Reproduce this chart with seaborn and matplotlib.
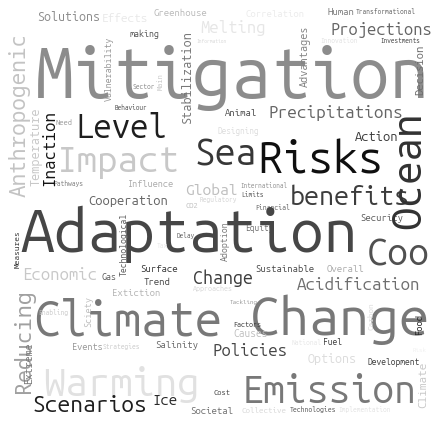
import numpy as np
import seaborn as sns
import matplotlib
matplotlib.use("Agg")
import matplotlib.pyplot as plt

# words of the cloud and their weight (size of one character cell, px)
words = ["Solutions", "Effects", "Greenhouse", "Melting", "Information", "Mitigation",
         "Correlation", "Human", "Transformational", "Projections", "Innovation", "Investments",
         "making", "Sector", "Behaviour", "Level", "Need", "Impact", "Sea", "Risks", "Animal",
         "Precipitations", "Action", "Designing", "Pathways", "Influence", "Global", "Cooperation",
         "CO2", "Regulatory", "International", "Limits", "Financial", "benefits", "Security", "Coo",
         "Equity", "Sustainable", "Overall", "Acidification", "Change", "Tackling", "Approaches",
         "Adaptation", "Economic", "Gas", "Surface", "Trend", "Delay", "Tax", "Extiction", "Climate",
         "Enabling", "Events", "Strategies", "Salinity", "Warming", "Scenarios", "Ice", "Cost",
         "Societal", "Policies", "Change", "Factors", "Causes", "National", "Fuel", "Options",
         "Development", "Risk", "Emission", "Collective", "Technologies", "Implementation",
         "Anthropogenic", "Vulnerability", "Main", "Stabilization", "Temperature", "Advantages",
         "Decision", "Inaction", "Ocean", "Adoption", "Measures", "Technological", "Reducing",
         "Extreme", "Sciety", "Carbon", "Food", "Climate"]
weights = [7.0, 6.6, 5.3, 9.3, 2.8, 39.5,
           5.3, 5.4, 3.7, 9.2, 3.7, 3.6,
           5.0, 3.7, 3.6, 18.4, 4.3, 20.5, 20.7, 25.0, 5.3,
           9.6, 7.2, 4.6, 3.8, 5.2, 8.8, 7.2,
           4.3, 3.7, 3.6, 3.7, 3.9, 15.0, 5.3, 21.0,
           4.7, 5.3, 5.4, 9.5, 10.0, 3.5, 4.0,
           33.7, 9.4, 5.0, 5.4, 5.4, 3.6, 3.7, 5.3, 27.0,
           3.8, 5.2, 3.7, 5.4, 22.4, 12.8, 8.3, 4.3,
           5.4, 9.4, 30.0, 4.1, 5.7, 3.8, 4.8, 7.1,
           4.8, 3.5, 21.9, 4.5, 3.9, 3.7,
           15.0, 5.9, 5.0, 8.5, 8.5, 7.3,
           7.5, 11.3, 28.0, 5.9, 5.6, 5.8, 15.4,
           7.1, 6.2, 5.5, 6.3, 7.9]

# layout: start x / baseline y for horizontal words, centre x / start y for vertical ones
pos_x = [37, 102, 154, 200, 196, 35,
         245, 328, 356, 330, 320, 380,
         130, 133, 115, 75, 55, 57, 195, 258, 225,
         268, 355, 217, 53, 128, 185, 88,
         185, 200, 240, 241, 255, 290, 360, 367,
         245, 255, 327, 297, 193, 230, 193,
         20, 22, 102, 140, 143, 177, 157, 112, 33,
         38, 72, 103, 155, 43, 33, 152, 213,
         190, 213, 250, 233, 233, 292, 323, 308,
         367, 413, 242, 242, 290, 338,
         20, 109, 161, 187, 36, 305,
         421, 50, 410, 225, 18, 124, 24,
         30, 89, 371, 420, 424]
pos_y = [21, 22, 16, 33, 43, 98,
         17, 15, 14, 35, 43, 43,
         37, 89, 110, 138, 125, 172, 166, 173, 116,
         118, 141, 134, 186, 187, 195, 205,
         208, 202, 188, 197, 210, 205, 221, 266,
         231, 272, 272, 290, 284, 304, 291,
         252, 280, 280, 272, 285, 238, 248, 296, 336,
         315, 350, 349, 348, 396, 412, 405, 395,
         414, 356, 335, 327, 337, 345, 345, 363,
         365, 352, 403, 413, 412, 412,
         213, 107, 92, 132, 193, 93,
         100, 193, 240, 265, 272, 282, 403,
         388, 330, 333, 337, 412]
vertical = [False] * 74 + [True] * 18
shade = [140, 232, 185, 230, 215, 140,
         235, 120, 90, 100, 225, 60,
         80, 130, 70, 30, 150, 200, 55, 15, 70,
         100, 60, 220, 120, 170, 190, 100,
         190, 210, 140, 70, 90, 60, 90, 80,
         110, 70, 170, 110, 60, 150, 215,
         70, 200, 90, 50, 70, 90, 230, 180, 120,
         200, 150, 200, 100, 225, 30, 40, 60,
         110, 70, 120, 50, 190, 230, 60, 220,
         60, 240, 120, 215, 80, 225,
         195, 150, 200, 120, 200, 130,
         110, 20, 50, 120, 50, 90, 160,
         120, 190, 220, 40, 200]

W, H, DPI = 433, 421, 100
V_SHRINK = 0.84  # vertical words: thinner glyphs, slightly shorter run

sns.set_theme(style="white")
plt.rcParams["font.family"] = ["Ubuntu Mono", "DejaVu Sans Mono"]

fig = plt.figure(figsize=(W / DPI, H / DPI), dpi=DPI)
ax = fig.add_axes([0, 0, 1, 1])
ax.set_xlim(0, W)
ax.set_ylim(H, 0)
ax.axis("off")

px2pt = 72 / DPI
texts = []
for w, s, x, y, v, g in zip(words, weights, pos_x, pos_y, vertical, shade):
    col = str(g / 255)
    length = s * len(w)
    if v:
        length *= V_SHRINK
        y0 = y - (s * len(w) - length) / 2
        t = ax.text(x, y0, w, rotation=90, rotation_mode="anchor", ha="left", va="center",
                    fontsize=length / len(w) / 0.6 * px2pt, color=col,
                    family=["Noto Sans Mono", "DejaVu Sans Mono"])
    else:
        t = ax.text(x, y, w, ha="left", va="baseline",
                    fontsize=s / 0.5 * px2pt, color=col)
    texts.append((t, length, v))

# rescale every word so its rendered run matches the target length
fig.canvas.draw()
r = fig.canvas.get_renderer()
for t, length, v in texts:
    bb = t.get_window_extent(renderer=r)
    got = bb.height if v else bb.width
    if got > 0:
        t.set_fontsize(t.get_fontsize() * length / got)

fig.savefig("out.png", dpi=DPI, facecolor="white")
